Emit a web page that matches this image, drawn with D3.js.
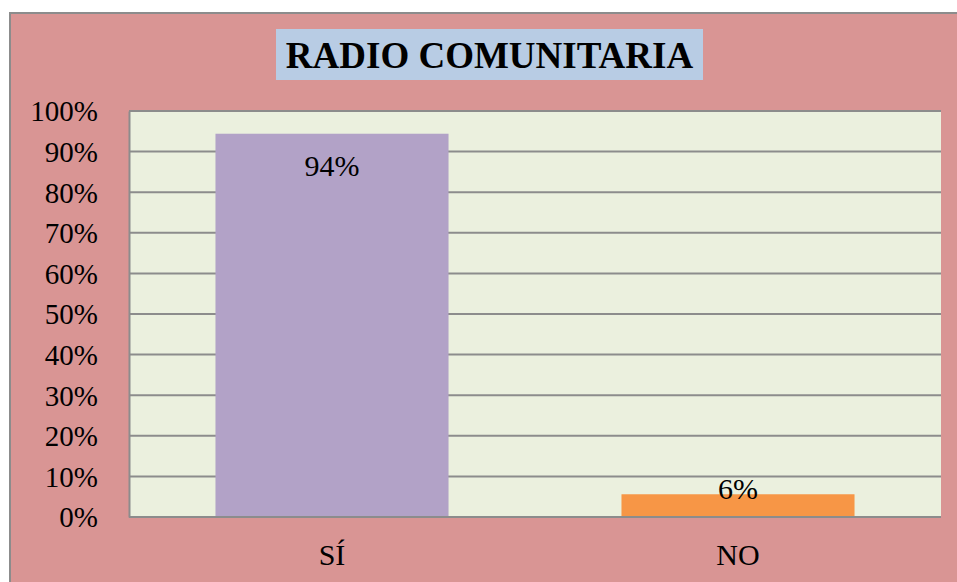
<!DOCTYPE html>
<html>
<head>
<meta charset="utf-8">
<script src="https://cdn.jsdelivr.net/npm/d3@7"></script>
<style>
  html, body { margin: 0; padding: 0; background: #ffffff; }
  svg { display: block; }
</style>
</head>
<body>
<svg id="chart" width="957" height="582"></svg>
<script>
const title = "RADIO COMUNITARIA";
const categories = ["SÍ", "NO"];
const values = [0.944, 0.056];
const valueLabels = ["94%", "6%"];
const tickValues = [0, 0.1, 0.2, 0.3, 0.4, 0.5, 0.6, 0.7, 0.8, 0.9, 1.0];
const barColors = ["#b2a2c7", "#f79646"];

const FONT = "Liberation Serif";
const svg = d3.select("#chart");
const W = 957, H = 582;

// outer chart area
svg.append("rect")
  .attr("x", 10).attr("y", 13).attr("width", W + 10).attr("height", H + 10)
  .attr("fill", "#d99594").attr("stroke", "#8c8c8c").attr("stroke-width", 2);

const plot = { left: 129, right: 941, top: 111, bottom: 517 };

const x = d3.scaleBand().domain(categories)
  .range([plot.left, plot.right]).paddingInner(0.426).paddingOuter(0.213);
const y = d3.scaleLinear().domain([0, 1]).range([plot.bottom, plot.top]);

svg.append("rect")
  .attr("x", plot.left).attr("y", plot.top)
  .attr("width", plot.right - plot.left).attr("height", plot.bottom - plot.top)
  .attr("fill", "#ebf0de");

// gridlines
svg.append("g").selectAll("line").data(tickValues).join("line")
  .attr("x1", plot.left).attr("x2", plot.right)
  .attr("y1", d => y(d)).attr("y2", d => y(d))
  .attr("stroke", "#8c8c8c").attr("stroke-width", 2);

// y axis
const yAxis = svg.append("g").attr("transform", `translate(${plot.left},0)`)
  .call(d3.axisLeft(y).tickValues(tickValues).tickFormat(d3.format(".0%")).tickSize(0).tickPadding(31));
yAxis.select(".domain").attr("stroke", "#8c8c8c").attr("stroke-width", 2);
yAxis.selectAll("text").attr("font-size", 29).style("font-family", FONT).attr("fill", "#000").attr("dy", "0.34em");

// bars
svg.append("g").selectAll("rect").data(categories).join("rect")
  .attr("x", d => x(d)).attr("width", x.bandwidth())
  .attr("y", (d, i) => y(values[i])).attr("height", (d, i) => y(0) - y(values[i]))
  .attr("fill", (d, i) => barColors[i]);

// x axis baseline
svg.append("line")
  .attr("x1", plot.left).attr("x2", plot.right)
  .attr("y1", y(0)).attr("y2", y(0))
  .attr("stroke", "#8c8c8c").attr("stroke-width", 2);

// x axis labels
const xAxis = svg.append("g").attr("transform", `translate(0,${plot.bottom})`)
  .call(d3.axisBottom(x).tickSize(0).tickPadding(0));
xAxis.select(".domain").remove();
xAxis.selectAll("text").attr("font-size", 30).style("font-family", FONT)
  .attr("fill", "#000").attr("dy", 0).attr("y", 48);

// value labels
svg.append("g").selectAll("text").data(categories).join("text")
  .attr("x", d => x(d) + x.bandwidth() / 2)
  .attr("y", (d, i) => {
    const top = y(values[i]);
    return (y(0) - top) > 60 ? top + 42 : top + 5;
  })
  .attr("text-anchor", "middle").attr("font-size", 30).style("font-family", FONT).attr("fill", "#000")
  .text((d, i) => valueLabels[i]);

// title
const tg = svg.append("g");
tg.append("rect").attr("x", 276).attr("y", 29).attr("width", 427).attr("height", 51).attr("fill", "#b8cce4");
tg.append("text").attr("x", 489.5).attr("y", 68).attr("text-anchor", "middle")
  .attr("font-size", 37).attr("font-weight", "bold").style("font-family", FONT).attr("fill", "#000").text(title);
</script>
</body>
</html>
